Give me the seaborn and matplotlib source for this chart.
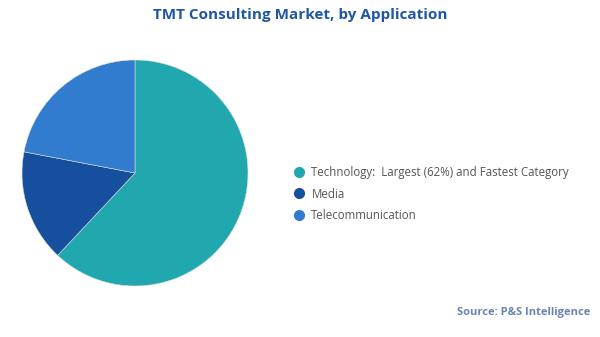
import matplotlib
matplotlib.use("Agg")
import matplotlib.pyplot as plt
import seaborn as sns
from matplotlib.lines import Line2D

categories = ["Technology", "Media", "Telecommunication"]
shares = [62, 16, 22]
legend_labels = ["Technology:  Largest (62%) and Fastest Category", "Media", "Telecommunication"]
colors = ["#21A7AE", "#154F9E", "#327CD0"]

sns.set_theme(style="white")
plt.rcParams['font.family'] = ['Open Sans', 'DejaVu Sans']

fig = plt.figure(figsize=(6, 3.37), dpi=100)
ax = fig.add_axes([22/600, 1 - 286/337, 226/600, 226/337])
ax.pie(shares, colors=colors, startangle=90, counterclock=False,
       wedgeprops=dict(linewidth=0.4, edgecolor="#dddddd"))
ax.set_aspect("equal")
ax.set_xlim(-1.0, 1.0)
ax.set_ylim(-1.0, 1.0)
ax.axis("off")

handles = [Line2D([0], [0], marker="o", linestyle="", markersize=7,
                  markerfacecolor=c, markeredgecolor=c) for c in colors]
fig.legend(handles, legend_labels, loc="center left",
           bbox_to_anchor=(282/600, 1 - 194/337), frameon=False,
           fontsize=8.3, labelcolor="#555555", handletextpad=0.45,
           labelspacing=0.7, handlelength=1.2)

fig.text(0.5, 1 - 15/337, "TMT Consulting Market, by Application",
         ha="center", va="center", fontsize=11, fontweight="bold", color="#1F56A6")
fig.text(590/600, 1 - 313/337, "Source: P&S Intelligence",
         ha="right", va="center", fontsize=8, fontweight="bold", color="#6A84B2")

fig.savefig("out.png", dpi=100)
